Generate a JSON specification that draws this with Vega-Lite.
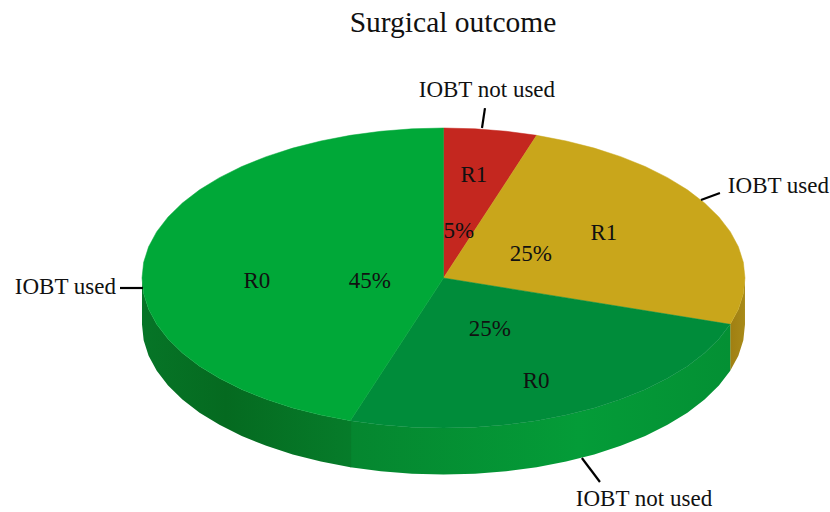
{"$schema":"https://vega.github.io/schema/vega-lite/v6.json","width":830,"height":512,"padding":0,"autosize":"none","background":"white",
"title":{"text":"Surgical outcome","font":"Liberation Serif","fontSize":29.5,"fontWeight":"normal","color":"#111111","anchor":"middle","frame":"group","dx":38,"offset":-38},
"config":{"view":{"stroke":null}},
"datasets":{
"sideGold":[{"x":100,"y":0,"y2":-31},{"x":99.45,"y":-10.45,"y2":-41.45},{"x":97.81,"y":-20.79,"y2":-51.79},{"x":95.11,"y":-30.9,"y2":-61.9}],
"sideDark":[{"x":95.11,"y":-30.9,"y2":-61.9},{"x":91.35,"y":-40.67,"y2":-71.67},{"x":86.6,"y":-50,"y2":-81},{"x":80.9,"y":-58.78,"y2":-89.78},{"x":74.31,"y":-66.91,"y2":-97.91},{"x":66.91,"y":-74.31,"y2":-105.31},{"x":58.78,"y":-80.9,"y2":-111.9},{"x":50,"y":-86.6,"y2":-117.6},{"x":40.67,"y":-91.35,"y2":-122.35},{"x":30.9,"y":-95.11,"y2":-126.11},{"x":20.79,"y":-97.81,"y2":-128.81},{"x":10.45,"y":-99.45,"y2":-130.45},{"x":0,"y":-100,"y2":-131},{"x":-10.45,"y":-99.45,"y2":-130.45},{"x":-20.79,"y":-97.81,"y2":-128.81},{"x":-30.9,"y":-95.11,"y2":-126.11}],
"sideLight":[{"x":-30.6,"y":-95.2,"y2":-126.2},{"x":-30.9,"y":-95.11,"y2":-126.11},{"x":-40.67,"y":-91.35,"y2":-122.35},{"x":-50,"y":-86.6,"y2":-117.6},{"x":-58.78,"y":-80.9,"y2":-111.9},{"x":-66.91,"y":-74.31,"y2":-105.31},{"x":-74.31,"y":-66.91,"y2":-97.91},{"x":-80.9,"y":-58.78,"y2":-89.78},{"x":-86.6,"y":-50,"y2":-81},{"x":-91.35,"y":-40.67,"y2":-71.67},{"x":-95.11,"y":-30.9,"y2":-61.9},{"x":-97.81,"y":-20.79,"y2":-51.79},{"x":-99.45,"y":-10.45,"y2":-41.45},{"x":-100,"y":0,"y2":-31}],
"slices":[
{"slice":"R1 IOBT not used","order":0,"x":0,"y":0},{"slice":"R1 IOBT not used","order":1,"x":0,"y":100},{"slice":"R1 IOBT not used","order":2,"x":10.45,"y":99.45},{"slice":"R1 IOBT not used","order":3,"x":20.79,"y":97.81},{"slice":"R1 IOBT not used","order":4,"x":30.9,"y":95.11},
{"slice":"R1 IOBT used","order":0,"x":0,"y":0},{"slice":"R1 IOBT used","order":1,"x":30.9,"y":95.11},{"slice":"R1 IOBT used","order":2,"x":40.67,"y":91.35},{"slice":"R1 IOBT used","order":3,"x":50,"y":86.6},{"slice":"R1 IOBT used","order":4,"x":58.78,"y":80.9},{"slice":"R1 IOBT used","order":5,"x":66.91,"y":74.31},{"slice":"R1 IOBT used","order":6,"x":74.31,"y":66.91},{"slice":"R1 IOBT used","order":7,"x":80.9,"y":58.78},{"slice":"R1 IOBT used","order":8,"x":86.6,"y":50},{"slice":"R1 IOBT used","order":9,"x":91.35,"y":40.67},{"slice":"R1 IOBT used","order":10,"x":95.11,"y":30.9},{"slice":"R1 IOBT used","order":11,"x":97.81,"y":20.79},{"slice":"R1 IOBT used","order":12,"x":99.45,"y":10.45},{"slice":"R1 IOBT used","order":13,"x":100,"y":0},{"slice":"R1 IOBT used","order":14,"x":99.45,"y":-10.45},{"slice":"R1 IOBT used","order":15,"x":97.81,"y":-20.79},{"slice":"R1 IOBT used","order":16,"x":95.11,"y":-30.9},
{"slice":"R0 IOBT not used","order":0,"x":0,"y":0},{"slice":"R0 IOBT not used","order":1,"x":95.11,"y":-30.9},{"slice":"R0 IOBT not used","order":2,"x":91.35,"y":-40.67},{"slice":"R0 IOBT not used","order":3,"x":86.6,"y":-50},{"slice":"R0 IOBT not used","order":4,"x":80.9,"y":-58.78},{"slice":"R0 IOBT not used","order":5,"x":74.31,"y":-66.91},{"slice":"R0 IOBT not used","order":6,"x":66.91,"y":-74.31},{"slice":"R0 IOBT not used","order":7,"x":58.78,"y":-80.9},{"slice":"R0 IOBT not used","order":8,"x":50,"y":-86.6},{"slice":"R0 IOBT not used","order":9,"x":40.67,"y":-91.35},{"slice":"R0 IOBT not used","order":10,"x":30.9,"y":-95.11},{"slice":"R0 IOBT not used","order":11,"x":20.79,"y":-97.81},{"slice":"R0 IOBT not used","order":12,"x":10.45,"y":-99.45},{"slice":"R0 IOBT not used","order":13,"x":0,"y":-100},{"slice":"R0 IOBT not used","order":14,"x":-10.45,"y":-99.45},{"slice":"R0 IOBT not used","order":15,"x":-20.79,"y":-97.81},{"slice":"R0 IOBT not used","order":16,"x":-30.9,"y":-95.11},
{"slice":"R0 IOBT used","order":0,"x":0,"y":0},{"slice":"R0 IOBT used","order":1,"x":-30.9,"y":-95.11},{"slice":"R0 IOBT used","order":2,"x":-40.67,"y":-91.35},{"slice":"R0 IOBT used","order":3,"x":-50,"y":-86.6},{"slice":"R0 IOBT used","order":4,"x":-58.78,"y":-80.9},{"slice":"R0 IOBT used","order":5,"x":-66.91,"y":-74.31},{"slice":"R0 IOBT used","order":6,"x":-74.31,"y":-66.91},{"slice":"R0 IOBT used","order":7,"x":-80.9,"y":-58.78},{"slice":"R0 IOBT used","order":8,"x":-86.6,"y":-50},{"slice":"R0 IOBT used","order":9,"x":-91.35,"y":-40.67},{"slice":"R0 IOBT used","order":10,"x":-95.11,"y":-30.9},{"slice":"R0 IOBT used","order":11,"x":-97.81,"y":-20.79},{"slice":"R0 IOBT used","order":12,"x":-99.45,"y":-10.45},{"slice":"R0 IOBT used","order":13,"x":-100,"y":0},{"slice":"R0 IOBT used","order":14,"x":-99.45,"y":10.45},{"slice":"R0 IOBT used","order":15,"x":-97.81,"y":20.79},{"slice":"R0 IOBT used","order":16,"x":-95.11,"y":30.9},{"slice":"R0 IOBT used","order":17,"x":-91.35,"y":40.67},{"slice":"R0 IOBT used","order":18,"x":-86.6,"y":50},{"slice":"R0 IOBT used","order":19,"x":-80.9,"y":58.78},{"slice":"R0 IOBT used","order":20,"x":-74.31,"y":66.91},{"slice":"R0 IOBT used","order":21,"x":-66.91,"y":74.31},{"slice":"R0 IOBT used","order":22,"x":-58.78,"y":80.9},{"slice":"R0 IOBT used","order":23,"x":-50,"y":86.6},{"slice":"R0 IOBT used","order":24,"x":-40.67,"y":91.35},{"slice":"R0 IOBT used","order":25,"x":-30.9,"y":95.11},{"slice":"R0 IOBT used","order":26,"x":-20.79,"y":97.81},{"slice":"R0 IOBT used","order":27,"x":-10.45,"y":99.45},{"slice":"R0 IOBT used","order":28,"x":0,"y":100}
],
"leaders":[{"x":12.77,"y":100,"x2":13.76,"y2":113.3},{"x":85.4,"y":52,"x2":91.7,"y2":56.7},{"x":45.9,"y":-120,"x2":51.9,"y2":-136},{"x":-107.3,"y":-6.67,"x2":-99.7,"y2":-6.67}],
"labels":[
{"label":"IOBT not used","x":14.4,"y":125.3},{"label":"IOBT used","x":111.1,"y":61.3},{"label":"IOBT not used","x":66.5,"y":-147.3},{"label":"IOBT used","x":-125.4,"y":-6},
{"label":"R1","x":10.1,"y":68.7},{"label":"5%","x":5.1,"y":31.3},{"label":"25%","x":29,"y":16},{"label":"R1","x":53.2,"y":30},{"label":"25%","x":15.4,"y":-34},{"label":"R0","x":30.7,"y":-68.7},{"label":"45%","x":-24.4,"y":-2},{"label":"R0","x":-61.9,"y":-2}
]},
"encoding":{
"x":{"field":"x","type":"quantitative","axis":null,"scale":{"domain":[-147.1,128.2],"nice":false,"zero":false}},
"y":{"field":"y","type":"quantitative","axis":null,"scale":{"domain":[-156,185.33],"nice":false,"zero":false}}
},
"layer":[
{"data":{"name":"sideGold"},"mark":{"type":"area","color":{"gradient":"linear","x1":0,"y1":0,"x2":1,"y2":0,"stops":[{"offset":0,"color":"#a07f12"},{"offset":1,"color":"#a88a18"}]}},"encoding":{"y2":{"field":"y2"}}},
{"data":{"name":"sideDark"},"mark":{"type":"area","color":{"gradient":"linear","x1":0,"y1":0,"x2":1,"y2":0,"stops":[{"offset":0,"color":"#05862f"},{"offset":0.6,"color":"#049c38"},{"offset":1,"color":"#049034"}]}},"encoding":{"y2":{"field":"y2"}}},
{"data":{"name":"sideLight"},"mark":{"type":"area","color":{"gradient":"linear","x1":0,"y1":0,"x2":1,"y2":0,"stops":[{"offset":0,"color":"#067527"},{"offset":0.4,"color":"#056a20"},{"offset":1,"color":"#067c2a"}]}},"encoding":{"y2":{"field":"y2"}}},
{"data":{"name":"slices"},"mark":{"type":"line","interpolate":"linear-closed","strokeWidth":0.5},"encoding":{
"detail":{"field":"slice"},
"order":{"field":"order","type":"quantitative"},
"fill":{"field":"slice","type":"nominal","legend":null,"scale":{"domain":["R1 IOBT not used","R1 IOBT used","R0 IOBT not used","R0 IOBT used"],"range":["#c4271f","#c9a61b","#008c3a","#00a838"]}},
"stroke":{"field":"slice","type":"nominal","legend":null,"scale":{"domain":["R1 IOBT not used","R1 IOBT used","R0 IOBT not used","R0 IOBT used"],"range":["#c4271f","#c9a61b","#008c3a","#00a838"]}}
}},
{"data":{"name":"leaders"},"mark":{"type":"rule","color":"#000000","strokeWidth":2.2},"encoding":{"x2":{"field":"x2"},"y2":{"field":"y2"}}},
{"data":{"name":"labels"},"mark":{"type":"text","font":"Liberation Serif","fontSize":23,"color":"#111111","align":"center","baseline":"middle"},"encoding":{"text":{"field":"label"}}}
]}
